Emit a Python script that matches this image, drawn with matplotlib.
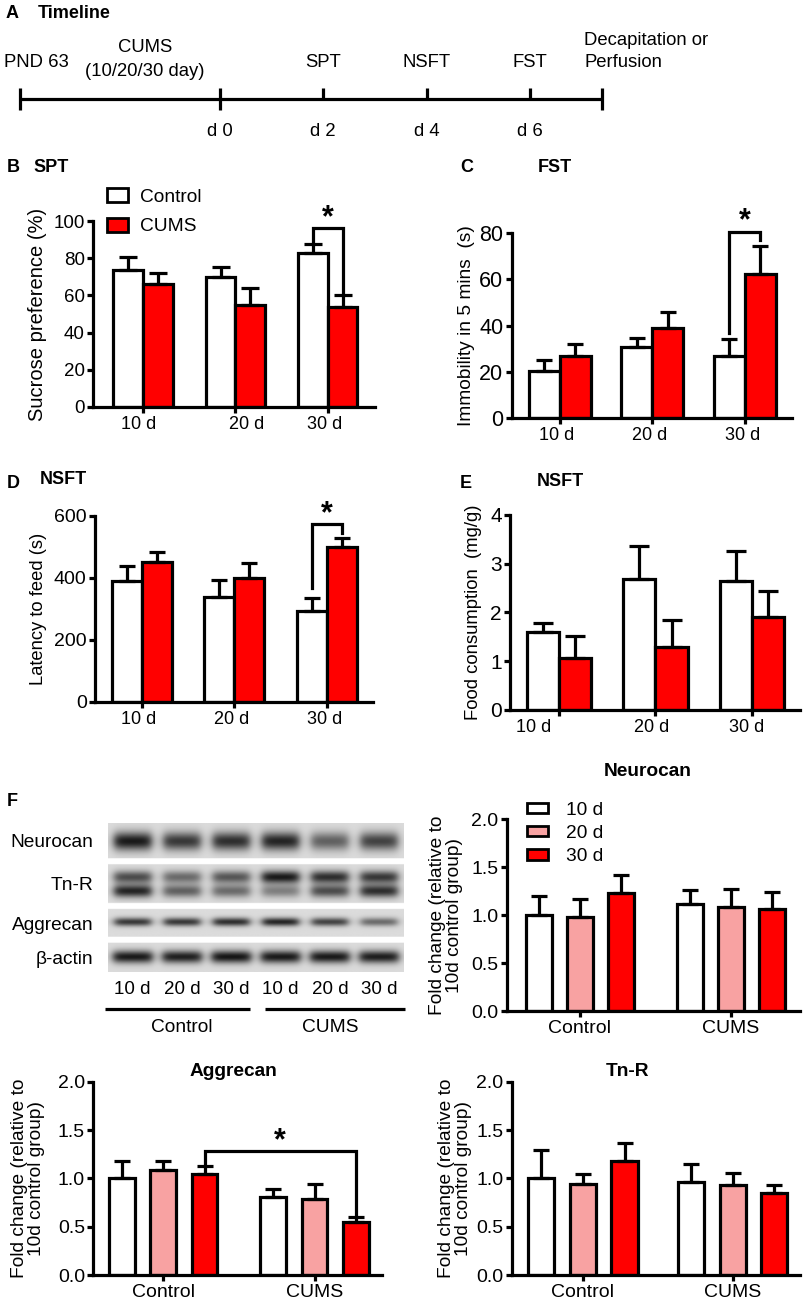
import numpy as np
import matplotlib
matplotlib.use("Agg")
import matplotlib.pyplot as plt
from matplotlib.patches import Patch

plt.rcParams['font.family'] = ['Liberation Sans', 'DejaVu Sans']

# ------------------------------------------------------------------ data
days = ['10 d', '20 d', '30 d']
groups = ['Control', 'CUMS']

spt_ctrl = [73.6, 70.0, 82.6]
spt_ctrl_err = [7.0, 5.3, 4.9]
spt_cums = [66.0, 55.0, 54.0]
spt_cums_err = [6.0, 9.0, 6.0]

fst_ctrl = [20.4, 30.6, 27.0]
fst_ctrl_err = [4.7, 4.1, 7.2]
fst_cums = [27.0, 39.0, 62.3]
fst_cums_err = [5.2, 7.0, 12.0]

lat_ctrl = [391, 339, 294]
lat_ctrl_err = [48, 54, 42]
lat_cums = [452, 401, 501]
lat_cums_err = [33, 48, 27]

food_ctrl = [1.59, 2.69, 2.65]
food_ctrl_err = [0.20, 0.67, 0.61]
food_cums = [1.06, 1.30, 1.90]
food_cums_err = [0.46, 0.55, 0.54]

# rows: Control, CUMS ; columns: 10 d, 20 d, 30 d
neurocan_mean = [[1.00, 0.98, 1.23], [1.12, 1.09, 1.06]]
neurocan_err = [[0.20, 0.185, 0.19], [0.14, 0.18, 0.185]]
aggrecan_mean = [[1.00, 1.09, 1.04], [0.81, 0.79, 0.545]]
aggrecan_err = [[0.18, 0.085, 0.085], [0.08, 0.155, 0.055]]
tnr_mean = [[1.00, 0.94, 1.18], [0.965, 0.93, 0.85]]
tnr_err = [[0.29, 0.10, 0.19], [0.18, 0.13, 0.08]]

blot_rows = ['Neurocan', 'Tn-R', 'Aggrecan', 'β-actin']
blot_lanes = ['10 d', '20 d', '30 d', '10 d', '20 d', '30 d']
blot_neurocan = [0.95, 0.80, 0.85, 0.90, 0.60, 0.75]
blot_tnr_upper = [0.70, 0.55, 0.65, 0.95, 0.85, 0.80]
blot_tnr_lower = [0.90, 0.60, 0.55, 0.45, 0.70, 0.85]
blot_aggrecan = [0.80, 0.80, 0.85, 0.90, 0.75, 0.55]
blot_actin = [0.95, 0.92, 0.97, 0.95, 0.95, 0.93]

timeline_days = [0, 2, 4, 6]
timeline_day_labels = ['d 0', 'd 2', 'd 4', 'd 6']
timeline_tests = ['SPT', 'NSFT', 'FST']
timeline_start, timeline_end = -3.87, 7.39

# ------------------------------------------------------------------ style
W, H = 805, 1300
fig = plt.figure(figsize=(W / 100, H / 100), dpi=100)
RED = '#FF0000'
PINK = '#F8A2A2'
LW = 2.3
TICK = 13
LAB = 13.5
TTL = 13


def add_ax(l, t, r, b):
    return fig.add_axes([l / W, 1 - b / H, (r - l) / W, (b - t) / H])


def ftext(x, y, s, **kw):
    kw.setdefault('va', 'center')
    fig.text(x / W, 1 - y / H, s, **kw)


def style(ax, ylim, yticks, ylabel, ylab_x, yfmt, ysize, labsize):
    for s in ['top', 'right']:
        ax.spines[s].set_visible(False)
    for s in ['left', 'bottom']:
        ax.spines[s].set_linewidth(LW)
    ax.set_ylim(*ylim)
    ax.set_yticks(yticks)
    ax.set_yticklabels([yfmt.format(v) for v in yticks])
    ax.tick_params(axis='y', direction='out', length=4.5, width=LW,
                   labelsize=ysize, pad=1.5)
    ax.tick_params(axis='x', which='major', direction='out', length=4.5,
                   width=LW, labelsize=TICK, pad=3)
    ax.set_ylabel(ylabel, fontsize=labsize, linespacing=1.0)
    ax.yaxis.set_label_coords(ylab_x, 0.5)
    ax.patch.set_alpha(0)


def bracket(ax, x1, x2, ytop, y1, y2, dy=1.5):
    ax.plot([x1, x1, x2, x2], [y1, ytop, ytop, y2], color='black', lw=LW,
            clip_on=False, zorder=4, solid_joinstyle='miter')
    ax.annotate('*', xy=((x1 + x2) / 2, ytop), xytext=(0, dy),
                textcoords='offset points', ha='center', va='baseline',
                fontsize=22, fontweight='bold', annotation_clip=False)


def errs(ax, x, y, e, cap):
    ax.errorbar(x, y, yerr=[np.zeros(len(y)), e], fmt='none', ecolor='black',
                elinewidth=LW, capsize=cap, capthick=LW, zorder=3)


def two_bar(box, ctrl, ce, cums, ue, xlim, w, cap, ylim, yticks, ylabel,
            ylab_x, lab_pos, ysize=TICK, labsize=LAB, yfmt='{:g}'):
    ax = add_ax(*box)
    x = np.arange(len(ctrl))
    ax.bar(x - w / 2, ctrl, w, color='white', edgecolor='black', linewidth=LW, zorder=2)
    ax.bar(x + w / 2, cums, w, color=RED, edgecolor='black', linewidth=LW, zorder=2)
    errs(ax, x - w / 2, ctrl, ce, cap)
    errs(ax, x + w / 2, cums, ue, cap)
    ax.set_xlim(*xlim)
    ax.set_xticks(x)
    ax.set_xticklabels([])
    ax.set_xticks(lab_pos, minor=True)
    ax.set_xticklabels(days, minor=True)
    style(ax, ylim, yticks, ylabel, ylab_x, yfmt, ysize, labsize)
    ax.tick_params(axis='x', which='minor', length=0, labelsize=TICK, pad=6.5)
    return ax, x


def three_bar(box, mean, err, xlim, off, w, cap, ylab_x):
    ax = add_ax(*box)
    mean = np.array(mean)
    err = np.array(err)
    g = np.arange(len(groups))
    cols = ['white', PINK, RED]
    xs = []
    for j in range(3):
        xj = g + (j - 1) * off
        xs.append(xj)
        ax.bar(xj, mean[:, j], w, color=cols[j], edgecolor='black', linewidth=LW, zorder=2)
        errs(ax, xj, mean[:, j], err[:, j], cap)
    ax.set_xlim(*xlim)
    ax.set_xticks(g)
    ax.set_xticklabels(groups)
    style(ax, (0, 2), [0, 0.5, 1.0, 1.5, 2.0],
          'Fold change (relative to\n10d control group)', ylab_x, '{:.1f}',
          14, 13.8)
    ax.tick_params(axis='x', length=4, pad=2.5, labelsize=14)
    return ax, xs, mean, err


# ------------------------------------------------------------------ A: timeline
ftext(6, 14, 'A', fontsize=TTL, fontweight='bold')
ftext(38, 14, 'Timeline', fontsize=TTL, fontweight='bold')
axT = add_ax(0, 77, 805, 121)
axT.set_xlim(-4.25, 11.32)
axT.set_ylim(-1, 1)
axT.axis('off')
axT.plot([timeline_start, timeline_end], [0, 0], color='black', lw=LW,
         solid_capstyle='butt')
axT.vlines([timeline_start, timeline_days[0], timeline_end], -0.5, 0.5,
           color='black', lw=LW)
axT.vlines(timeline_days[1:], 0, 0.5, color='black', lw=LW)
TL = 13.3
for d, lab in zip(timeline_days, timeline_day_labels):
    axT.text(d, -1.5, lab, ha='center', va='center', fontsize=TL, clip_on=False)
for d, lab in zip(timeline_days[1:], timeline_tests):
    axT.text(d, 1.64, lab, ha='center', va='center', fontsize=TL, clip_on=False)
axT.text(-4.17, 1.64, 'PND 63', ha='left', va='center', fontsize=TL, clip_on=False)
axT.text(-1.45, 2.32, 'CUMS', ha='center', va='center', fontsize=TL, clip_on=False)
axT.text(-1.45, 1.23, '(10/20/30 day)', ha='center', va='center', fontsize=TL,
         clip_on=False)
axT.text(7.05, 2.68, 'Decapitation or', ha='left', va='center', fontsize=TL,
         clip_on=False)
axT.text(7.05, 1.64, 'Perfusion', ha='left', va='center', fontsize=TL, clip_on=False)

# ------------------------------------------------------------------ B: SPT
ftext(7, 168, 'B', fontsize=TTL, fontweight='bold')
ftext(33, 168, 'SPT', fontsize=TTL, fontweight='bold')
wB = 0.32
axB, xB = two_bar((93, 221, 375, 407), spt_ctrl, spt_ctrl_err, spt_cums,
                  spt_cums_err, (-0.54, 2.51), wB, 6.5, (0, 100),
                  [0, 20, 40, 60, 80, 100], 'Sucrose preference (%)', -0.163,
                  [-0.05, 1.12, 1.97], ysize=13.5, labsize=14.5)
bracket(axB, 2 - wB / 2, 2 + wB / 2, 96,
        spt_ctrl[2] + spt_ctrl_err[2], spt_cums[2] + spt_cums_err[2])
handles = [Patch(facecolor='white', edgecolor='black', linewidth=2),
           Patch(facecolor=RED, edgecolor='black', linewidth=2)]
axB.legend(handles, ['Control', 'CUMS'], loc='upper left',
           bbox_to_anchor=(107 / W, 1 - 188 / H), bbox_transform=fig.transFigure,
           frameon=False, fontsize=13.8, handlelength=1.07, handleheight=0.75,
           handletextpad=0.64, labelspacing=0.62, borderpad=0, borderaxespad=0)

# ------------------------------------------------------------------ C: FST
ftext(460, 168, 'C', fontsize=TTL, fontweight='bold')
ftext(538, 168, 'FST', fontsize=TTL, fontweight='bold')
wC = 0.335
axC, xC = two_bar((511.7, 232.7, 791.7, 418.3), fst_ctrl, fst_ctrl_err, fst_cums,
                  fst_cums_err, (-0.52, 2.505), wC, 6, (0, 80),
                  [0, 20, 40, 60, 80], 'Immobility in 5 mins  (s)', -0.131,
                  [-0.03, 0.97, 1.97], ysize=15.5, labsize=13.8)
bracket(axC, 2 - wC / 2, 2 + wC / 2, 80.4,
        fst_ctrl[2] + fst_ctrl_err[2] + 2.4, fst_cums[2] + fst_cums_err[2] + 2.6)

# ------------------------------------------------------------------ D: NSFT latency
ftext(7, 484, 'D', fontsize=TTL, fontweight='bold')
ftext(40, 480, 'NSFT', fontsize=TTL, fontweight='bold')
wD = 0.324
axD, xD = two_bar((95, 516, 373, 701.7), lat_ctrl, lat_ctrl_err, lat_cums,
                  lat_cums_err, (-0.504, 2.497), wD, 6, (0, 600),
                  [0, 200, 400, 600], 'Latency to feed (s)', -0.173,
                  [-0.03, 0.97, 1.97], ysize=14, labsize=13.2)
bracket(axD, 2 - wD / 2, 2 + wD / 2, 573,
        lat_ctrl[2] + lat_ctrl_err[2] + 30, lat_cums[2] + lat_cums_err[2] + 17)

# ------------------------------------------------------------------ E: NSFT food
ftext(460, 484, 'E', fontsize=TTL, fontweight='bold')
ftext(537, 481, 'NSFT', fontsize=TTL, fontweight='bold')
wE = 0.333
axE, xE = two_bar((510, 515, 800, 710), food_ctrl, food_ctrl_err, food_cums,
                  food_cums_err, (-0.51, 2.50), wE, 7, (0, 4),
                  [0, 1, 2, 3, 4], 'Food consumption  (mg/g)', -0.097,
                  [-0.26, 0.96, 1.95], ysize=15, labsize=13.3)

# ------------------------------------------------------------------ F: western blot
ftext(7, 802, 'F', fontsize=TTL, fontweight='bold')
axW = add_ax(108, 823, 404, 972)
strips = [(823, 858), (864, 903), (909, 937), (943, 972)]
nx, ny = 600, 300
xs = np.linspace(-0.5, 5.5, nx)
ys = np.linspace(823, 972, ny)
X, Y = np.meshgrid(xs, ys)
img = np.ones((ny, nx))
for (t, b) in strips:
    img[(ys >= t) & (ys <= b), :] = 0.86
bands = [(blot_neurocan, 841, 6.5, 0.38), (blot_tnr_upper, 877, 4.5, 0.38),
         (blot_tnr_lower, 891, 4.5, 0.38), (blot_aggrecan, 922, 3.0, 0.37),
         (blot_actin, 957, 4.5, 0.40)]
inside = np.zeros_like(img, dtype=bool)
for (t, b) in strips:
    inside |= (Y >= t) & (Y <= b)
dark = np.zeros_like(img)
for vals, cy, sy, hw in bands:
    for i, v in enumerate(vals):
        fx = 1 / (1 + np.exp((np.abs(X - i) - hw) / 0.05))
        fy = np.exp(-0.5 * ((Y - cy) / sy) ** 2)
        dark += v * fx * fy
img = np.where(inside, np.clip(img - 0.8 * dark, 0.05, 1), 1.0)
axW.imshow(img, cmap='gray', vmin=0, vmax=1, extent=(-0.5, 5.5, 972, 823),
           aspect='auto', interpolation='bilinear')
axW.set_xlim(-0.5, 5.5)
axW.set_ylim(972, 823)
for s in axW.spines.values():
    s.set_visible(False)
axW.set_yticks([])
axW.set_xticks(range(len(blot_lanes)))
axW.set_xticklabels(blot_lanes, fontsize=13.5)
axW.tick_params(axis='x', length=0, pad=6.5)
for lab, (t, b) in zip(blot_rows, strips):
    axW.text(-0.80, (t + b) / 2 + 2, lab, ha='right', va='center', fontsize=13.8,
             clip_on=False)
axW.plot([-0.56, 2.38], [1009, 1009], color='black', lw=LW, clip_on=False,
         solid_capstyle='butt')
axW.plot([2.68, 5.52], [1009, 1009], color='black', lw=LW, clip_on=False,
         solid_capstyle='butt')
axW.text(1, 1028, groups[0], ha='center', va='center', fontsize=13.8, clip_on=False)
axW.text(4, 1028, groups[1], ha='center', va='center', fontsize=13.8, clip_on=False)

# ------------------------------------------------------------------ Neurocan
ftext(648, 772, 'Neurocan', fontsize=TTL + 0.8, fontweight='bold', ha='center')
axN, xsN, mN, eN = three_bar((506.7, 819.3, 800, 1011), neurocan_mean, neurocan_err,
                             (-0.485, 1.457), 0.2715, 0.17, 5.8, -0.149)
handles3 = [Patch(facecolor=c, edgecolor='black', linewidth=2)
            for c in ['white', PINK, RED]]
axN.legend(handles3, days, loc='upper left',
           bbox_to_anchor=(527 / W, 1 - 802 / H), bbox_transform=fig.transFigure,
           frameon=False, fontsize=13.8, handlelength=1.07, handleheight=0.45,
           handletextpad=0.96, labelspacing=0.32, borderpad=0, borderaxespad=0)

# ------------------------------------------------------------------ Aggrecan
ftext(233, 1072, 'Aggrecan', fontsize=TTL + 0.8, fontweight='bold', ha='center')
axA, xsA, mA, eA = three_bar((93.3, 1081.7, 381.7, 1275), aggrecan_mean, aggrecan_err,
                             (-0.463, 1.444), 0.273, 0.17, 5.8, -0.167)
bracket(axA, xsA[2][0], xsA[2][1], 1.28, mA[0, 2] + eA[0, 2], mA[1, 2] + eA[1, 2])

# ------------------------------------------------------------------ Tn-R
ftext(627, 1071, 'Tn-R', fontsize=TTL + 0.8, fontweight='bold', ha='center')
axR, xsR, mR, eR = three_bar((511.7, 1081.7, 800, 1275), tnr_mean, tnr_err,
                             (-0.476, 1.45), 0.278, 0.175, 5.8, -0.138)

fig.savefig('out.png', dpi=100)
